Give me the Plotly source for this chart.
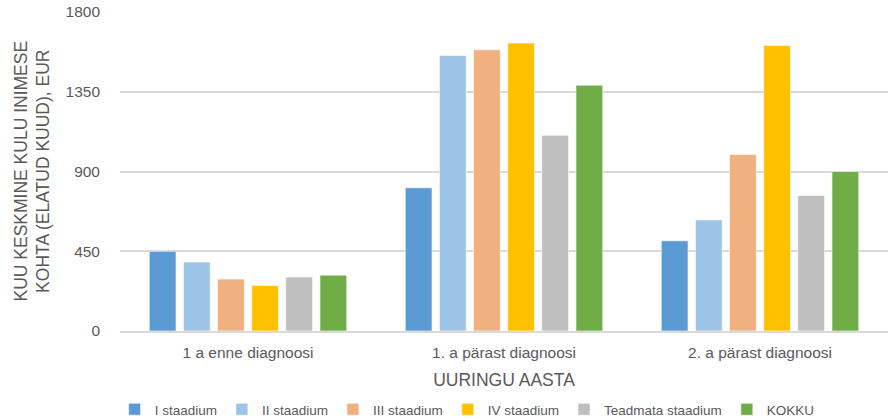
import plotly.graph_objects as go

categories = ["1 a enne diagnoosi", "1. a pärast diagnoosi", "2. a pärast diagnoosi"]
series_names = ["I staadium", "II staadium", "III staadium", "IV staadium", "Teadmata staadium", "KOKKU"]
values_I = [450, 808, 509]
values_II = [389, 1555, 627]
values_III = [293, 1587, 996]
values_IV = [257, 1625, 1611]
values_T = [304, 1104, 764]
values_K = [315, 1387, 900]
colors = ["#5B9BD5", "#9DC3E6", "#F0B080", "#FFC000", "#BFBFBF", "#70AD47"]
y_ticks = [0, 450, 900, 1350, 1800]

all_vals = [values_I, values_II, values_III, values_IV, values_T, values_K]

fig = go.Figure()
for name, vals, col in zip(series_names, all_vals, colors):
    fig.add_trace(go.Bar(x=categories, y=vals, name=name, marker_color=col,
                         marker_line_color="rgba(255,255,255,0.6)", marker_line_width=1))

font_color = "#595959"
fig.update_layout(
    width=888, height=420,
    margin=dict(l=120, r=0, t=12, b=89, autoexpand=False),
    paper_bgcolor="white", plot_bgcolor="white",
    font=dict(family="Liberation Sans, Arial, sans-serif", color=font_color, size=15),
    barmode="group", bargap=0.2, bargroupgap=0.215,
    showlegend=True,
    legend=dict(orientation="h", x=0.452, xanchor="center", yref="container", y=0.062, yanchor="top",
                font=dict(size=13.5, color=font_color), itemwidth=30, traceorder="normal"),
    xaxis=dict(showgrid=False, showline=True, linecolor="#D9D9D9", linewidth=2,
               ticks="", tickfont=dict(size=15.5, color=font_color), ticklabelstandoff=6,
               title=dict(text="UURINGU AASTA", font=dict(size=17.5, color=font_color), standoff=14)),
    yaxis=dict(range=[0, 1800], tickvals=y_ticks, showgrid=True, gridcolor="#D9D9D9", gridwidth=2,
               zeroline=False, showline=False, ticks="", ticklabelstandoff=19,
               tickfont=dict(size=15.5, color=font_color)),
    annotations=[dict(text="KUU KESKMINE KULU INIMESE<br>KOHTA (ELATUD KUUD), EUR",
                      textangle=-90, xref="paper", yref="paper", x=0, y=0.5,
                      xanchor="center", yanchor="middle", xshift=-88, showarrow=False,
                      font=dict(size=17.5, color=font_color))],
)
fig.write_html("out.html")
